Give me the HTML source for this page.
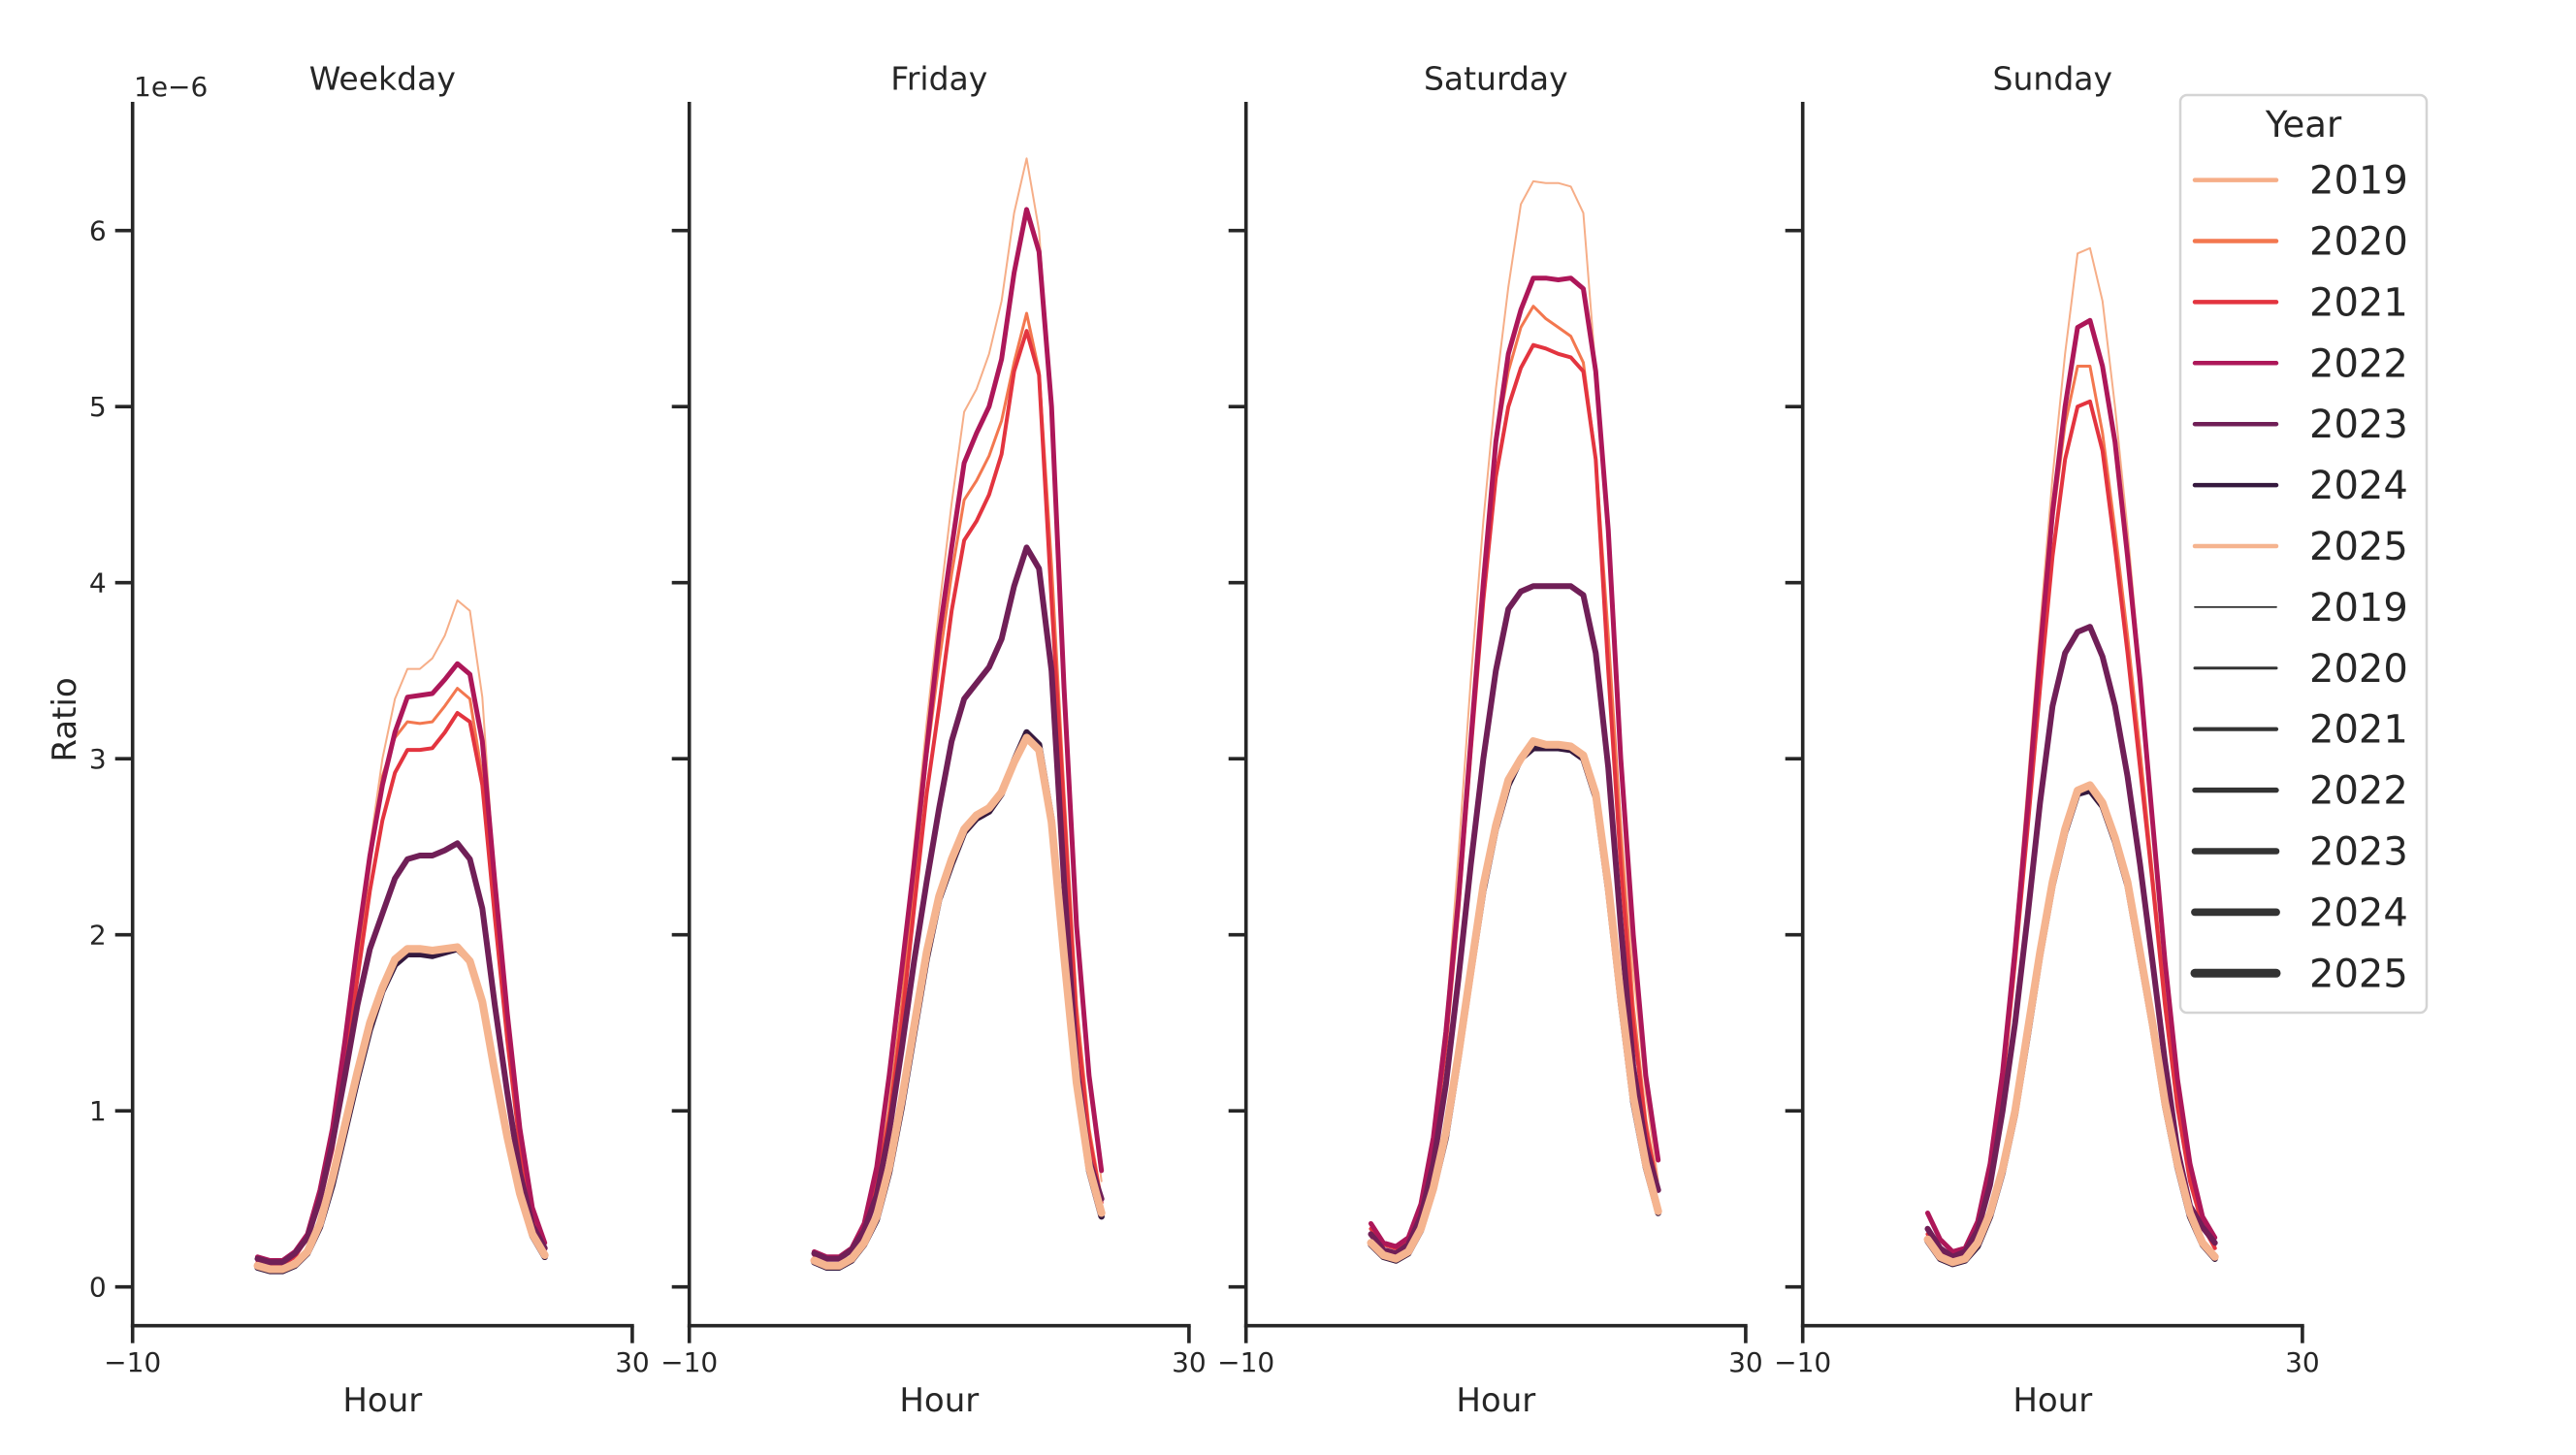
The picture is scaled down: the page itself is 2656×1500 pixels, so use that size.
<!DOCTYPE html>
<html><head><meta charset="utf-8">
<style>
html,body{margin:0;padding:0;background:#fff;}
svg{display:block;}
text{font-family:"DejaVu Sans","Liberation Sans",sans-serif;fill:#262626;}
</style></head>
<body>
<svg id="s" xmlns="http://www.w3.org/2000/svg" width="2656" height="1500" viewBox="0 0 2656 1500"></svg>
<script>
const S=document.getElementById('s');
let h='';
const Y0=1326.7, PU=181.5, XL0=136.7, PX=12.88, DX=574;
const yv=v=>Y0-v*PU;
const col={2019:'#f6ae88',2020:'#f3774f',2021:'#e3343f',2022:'#ad1759',2023:'#701f57',2024:'#35193e',2025:'#f5b48f'};
const lw={2019:2,2020:3,2021:4,2022:5,2023:6,2024:6.5,2025:8};
const D=[
{title:'Weekday',d:{
2019:[0.14,0.13,0.13,0.17,0.28,0.5,0.85,1.35,1.95,2.5,3.0,3.34,3.51,3.51,3.57,3.7,3.9,3.84,3.35,2.3,1.5,0.85,0.42,0.22],
2020:[0.14,0.13,0.13,0.17,0.28,0.5,0.8,1.3,1.85,2.4,2.9,3.12,3.21,3.2,3.21,3.3,3.4,3.34,2.9,2.1,1.4,0.8,0.4,0.21],
2021:[0.14,0.13,0.13,0.17,0.28,0.48,0.78,1.25,1.75,2.25,2.65,2.92,3.05,3.05,3.06,3.15,3.26,3.21,2.85,2.1,1.4,0.8,0.4,0.21],
2022:[0.17,0.15,0.15,0.2,0.3,0.55,0.9,1.4,1.95,2.45,2.85,3.15,3.35,3.36,3.37,3.45,3.54,3.48,3.1,2.3,1.55,0.9,0.45,0.25],
2023:[0.16,0.14,0.14,0.19,0.28,0.5,0.82,1.2,1.6,1.92,2.12,2.32,2.43,2.45,2.45,2.48,2.52,2.43,2.15,1.6,1.1,0.65,0.35,0.22],
2024:[0.11,0.09,0.09,0.12,0.19,0.34,0.58,0.88,1.18,1.46,1.68,1.83,1.89,1.89,1.88,1.9,1.92,1.85,1.62,1.22,0.85,0.53,0.29,0.17],
2025:[0.12,0.1,0.1,0.13,0.2,0.36,0.62,0.92,1.22,1.5,1.7,1.86,1.92,1.92,1.91,1.92,1.93,1.85,1.62,1.22,0.85,0.53,0.3,0.18]}},
{title:'Friday',d:{
2019:[0.18,0.16,0.16,0.21,0.34,0.62,1.1,1.75,2.5,3.2,3.85,4.45,4.97,5.1,5.3,5.6,6.1,6.41,6.0,5.0,3.4,2.05,1.15,0.6],
2020:[0.18,0.16,0.16,0.21,0.33,0.6,1.0,1.6,2.3,3.0,3.55,4.05,4.47,4.58,4.72,4.92,5.25,5.53,5.2,4.1,2.8,1.6,0.9,0.5],
2021:[0.18,0.16,0.16,0.21,0.33,0.58,0.95,1.5,2.15,2.8,3.3,3.84,4.24,4.35,4.5,4.73,5.2,5.43,5.18,3.9,2.7,1.5,0.85,0.48],
2022:[0.2,0.17,0.17,0.22,0.36,0.68,1.2,1.8,2.4,3.05,3.7,4.2,4.68,4.85,5.0,5.27,5.76,6.12,5.88,5.0,3.4,2.05,1.2,0.66],
2023:[0.19,0.16,0.16,0.21,0.32,0.52,0.88,1.35,1.85,2.3,2.72,3.1,3.34,3.43,3.52,3.68,3.98,4.2,4.08,3.5,2.3,1.25,0.72,0.5],
2024:[0.14,0.11,0.11,0.15,0.24,0.38,0.65,1.02,1.44,1.86,2.2,2.4,2.58,2.66,2.7,2.8,2.99,3.15,3.08,2.66,1.88,1.16,0.66,0.4],
2025:[0.15,0.12,0.12,0.16,0.25,0.4,0.68,1.06,1.48,1.9,2.22,2.43,2.6,2.68,2.72,2.81,2.98,3.12,3.05,2.64,1.88,1.16,0.68,0.42]}},
{title:'Saturday',d:{
2019:[0.33,0.24,0.22,0.27,0.45,0.85,1.5,2.45,3.45,4.35,5.1,5.68,6.15,6.28,6.27,6.27,6.25,6.1,5.2,4.2,2.9,1.8,1.1,0.6],
2020:[0.33,0.24,0.22,0.27,0.45,0.82,1.42,2.25,3.15,4.05,4.8,5.2,5.45,5.57,5.5,5.45,5.4,5.25,4.7,3.7,2.6,1.6,0.95,0.55],
2021:[0.33,0.24,0.22,0.27,0.45,0.8,1.38,2.15,3.05,3.9,4.6,5.0,5.22,5.35,5.33,5.3,5.28,5.2,4.7,3.5,2.4,1.5,0.9,0.55],
2022:[0.36,0.25,0.23,0.28,0.47,0.85,1.45,2.2,3.1,4.0,4.8,5.3,5.55,5.73,5.73,5.72,5.73,5.67,5.2,4.3,3.0,2.0,1.2,0.72],
2023:[0.3,0.21,0.19,0.24,0.4,0.7,1.15,1.75,2.4,3.0,3.5,3.85,3.95,3.98,3.98,3.98,3.98,3.93,3.6,2.95,2.05,1.25,0.8,0.55],
2024:[0.24,0.17,0.15,0.19,0.32,0.55,0.85,1.3,1.78,2.25,2.6,2.85,3.0,3.06,3.06,3.06,3.05,3.0,2.78,2.25,1.62,1.05,0.68,0.42],
2025:[0.25,0.18,0.16,0.2,0.33,0.56,0.88,1.32,1.8,2.28,2.62,2.88,3.0,3.1,3.08,3.08,3.07,3.02,2.8,2.28,1.65,1.08,0.7,0.43]}},
{title:'Sunday',d:{
2019:[0.3,0.2,0.18,0.22,0.36,0.7,1.25,2.0,2.85,3.75,4.6,5.3,5.87,5.9,5.6,5.0,4.3,3.5,2.65,1.8,1.15,0.68,0.38,0.25],
2020:[0.3,0.2,0.18,0.22,0.36,0.68,1.2,1.9,2.7,3.55,4.35,4.9,5.23,5.23,4.85,4.3,3.7,3.05,2.35,1.65,1.05,0.62,0.36,0.23],
2021:[0.3,0.2,0.18,0.22,0.36,0.66,1.15,1.85,2.6,3.4,4.15,4.7,5.0,5.03,4.75,4.2,3.6,2.95,2.3,1.6,1.02,0.6,0.35,0.22],
2022:[0.42,0.27,0.2,0.22,0.37,0.7,1.22,1.92,2.72,3.6,4.4,5.0,5.45,5.49,5.23,4.8,4.15,3.45,2.65,1.85,1.18,0.7,0.4,0.28],
2023:[0.33,0.22,0.17,0.2,0.32,0.58,1.0,1.5,2.1,2.75,3.3,3.6,3.72,3.75,3.58,3.3,2.9,2.4,1.85,1.28,0.78,0.46,0.34,0.25],
2024:[0.26,0.16,0.13,0.15,0.23,0.4,0.65,0.98,1.42,1.88,2.28,2.58,2.8,2.82,2.73,2.53,2.28,1.88,1.48,1.03,0.68,0.4,0.24,0.16],
2025:[0.27,0.17,0.14,0.16,0.25,0.42,0.67,1.0,1.45,1.9,2.3,2.6,2.82,2.85,2.75,2.55,2.3,1.9,1.5,1.05,0.7,0.42,0.25,0.17]}}
];
D.forEach((p,i)=>{
  const xl=XL0+i*DX, xr=xl+40*PX, xc=(xl+xr)/2;
  const X=hr=>xl+(hr+10)*PX;
  h+=`<text x="${xc}" y="92.5" font-size="33" text-anchor="middle">${p.title}</text>`;
  h+=`<line x1="${xl}" y1="105" x2="${xl}" y2="1368.5" stroke="#262626" stroke-width="3.6"/>`;
  h+=`<line x1="${xl-1.8}" y1="1366.7" x2="${xr+1.8}" y2="1366.7" stroke="#262626" stroke-width="3.6"/>`;
  for(let v=0;v<=6;v++){
    const y=yv(v);
    h+=`<line x1="${xl-18}" y1="${y}" x2="${xl}" y2="${y}" stroke="#262626" stroke-width="3.6"/>`;
    if(i==0) h+=`<text x="${xl-27}" y="${y+10}" font-size="28" text-anchor="end">${v}</text>`;
  }
  [[-10,'−10'],[30,'30']].forEach(([t,l])=>{
    const x=X(t);
    h+=`<line x1="${x}" y1="1366.7" x2="${x}" y2="1384.7" stroke="#262626" stroke-width="3.6"/>`;
    h+=`<text x="${x}" y="1414" font-size="28" text-anchor="middle">${l}</text>`;
  });
  h+=`<text x="${xc}" y="1455" font-size="34" text-anchor="middle">Hour</text>`;
  for(let yr=2019;yr<=2025;yr++){
    const a=p.d[yr];
    const pts=a.map((v,k)=>X(k).toFixed(1)+','+yv(v).toFixed(1)).join(' ');
    h+=`<polyline points="${pts}" fill="none" stroke="${col[yr]}" stroke-width="${lw[yr]}" stroke-linejoin="round" stroke-linecap="round"/>`;
  }
});
h+=`<text x="138" y="99" font-size="28">1e−6</text>`;
h+=`<text transform="translate(78,742) rotate(-90)" font-size="34" text-anchor="middle">Ratio</text>`;
h+=`<rect x="2248" y="98" width="254" height="946" rx="7" fill="#fff" fill-opacity="0.8" stroke="#d4d4d4" stroke-width="2.5"/>`;
h+=`<text x="2375" y="141" font-size="37" text-anchor="middle">Year</text>`;
const yrs=[2019,2020,2021,2022,2023,2024,2025];
for(let k=0;k<14;k++){
  const y=185.6+62.9*k, yr=yrs[k%7];
  const c=k<7?col[yr]:'#333333', w=k<7?4.5:[1.8,3,4.2,5.4,6.6,7.8,9][k-7];
  h+=`<line x1="2263" y1="${y}" x2="2347" y2="${y}" stroke="${c}" stroke-width="${w}" stroke-linecap="round"/>`;
  h+=`<text x="2381" y="${y+14}" font-size="40">${yr}</text>`;
}
S.innerHTML=h;
</script>
</body></html>
